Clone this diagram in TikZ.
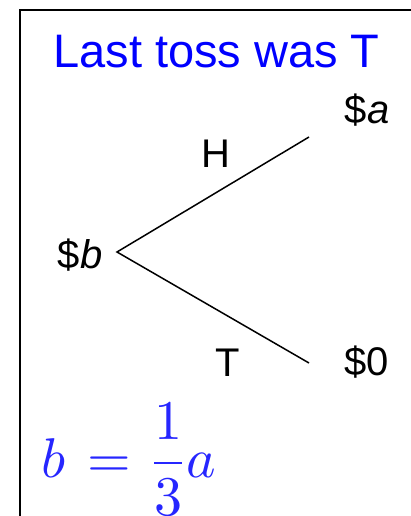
\documentclass[tikz,border=0pt]{standalone}
\usepackage{fontspec}
\setmainfont{Liberation Sans}
\usepackage{unicode-math}
\setmathfont{Latin Modern Math}
\begin{document}
\begin{tikzpicture}[x=1pt,y=-1pt,
  lbl/.style={inner sep=0pt,anchor=base,font=\fontsize{40}{44}\selectfont},
  branch/.style={line width=1.5pt}]
\useasboundingbox (0,0) rectangle (410,516);
\draw[line width=2.5pt] (20,540) -- (20,10) -- (430,10);
\node[inner sep=0pt,anchor=base,text=blue,font=\fontsize{47}{52}\selectfont] (title) at (216.5,68) {Last toss was T};
\coordinate (o) at (117,252);
\coordinate (u) at (309,137);
\coordinate (d) at (309,363);
\draw[branch,line join=miter] (u) -- (o) -- (d);
\node[lbl] (a) at (367,124) {\$\textit{a}};
\node[lbl] (z) at (367,375) {\$0};
\node[lbl] (b) at (80,268) {\$\textit{b}};
\node[lbl] (H) at (216,167) {H};
\node[lbl] (T) at (228,376) {T};
\node[inner sep=0pt,anchor=base west,text=blue!85,font=\fontsize{56}{60}\selectfont] (f) at (41,477) {$\displaystyle b\mkern2mu=\mkern2mu\frac{1}{3}\mkern1mu a$};
\end{tikzpicture}
\end{document}
